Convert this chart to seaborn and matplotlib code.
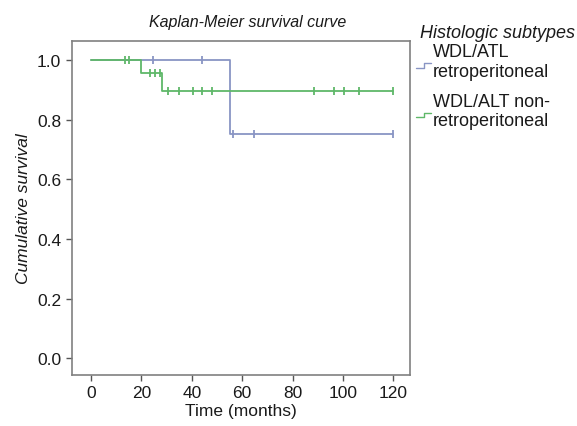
import pandas as pd
import seaborn as sns
import matplotlib.pyplot as plt
from matplotlib.lines import Line2D
from matplotlib.legend_handler import HandlerBase

# Kaplan-Meier step points (time in months, cumulative survival)
retro_time = [0, 55, 120]
retro_surv = [1.0, 0.75, 0.75]
retro_cens_time = [24.5, 44, 56.5, 64.5, 120]
retro_cens_surv = [1.0, 1.0, 0.75, 0.75, 0.75]

nonretro_time = [0, 20, 28, 120]
nonretro_surv = [1.0, 0.955, 0.895, 0.895]
nonretro_cens_time = [13.5, 15, 23.5, 25.5, 27.5, 30.5, 35, 40.5, 44, 48,
                      88.5, 96.5, 100.5, 106.5, 120]
nonretro_cens_surv = [1.0, 1.0, 0.955, 0.955, 0.955, 0.895, 0.895, 0.895, 0.895, 0.895,
                      0.895, 0.895, 0.895, 0.895, 0.895]

labels = ["WDL/ATL\nretroperitoneal", "WDL/ALT non-\nretroperitoneal"]
colors = ["#8995c4", "#5fb869"]


class StepHandler(HandlerBase):
    # little step glyph like in the original legend
    def create_artists(self, legend, orig_handle, xdescent, ydescent,
                       width, height, fontsize, trans):
        x0, x1 = -xdescent, -xdescent + width
        xm = x0 + width * 0.5
        yb = -ydescent + height * 0.0
        yt = -ydescent + height * 0.35
        ln = Line2D([x0, xm, xm, x1], [yb, yb, yt, yt],
                    color=orig_handle.get_color(), lw=1.0, transform=trans)
        return [ln]


def main():
    sns.set_style("ticks")
    plt.rcParams["font.family"] = ["Liberation Sans", "DejaVu Sans"]
    plt.rcParams["text.color"] = "#1a1a1a"
    plt.rcParams["xtick.color"] = "#555555"
    plt.rcParams["ytick.color"] = "#555555"
    plt.rcParams["xtick.labelcolor"] = "#1a1a1a"
    plt.rcParams["ytick.labelcolor"] = "#1a1a1a"
    plt.rcParams["axes.labelcolor"] = "#1a1a1a"

    fig = plt.figure(figsize=(5.77, 4.27), dpi=100)
    ax = fig.add_axes([0.125, 0.119, 0.586, 0.783])

    curves = [
        (retro_time, retro_surv, retro_cens_time, retro_cens_surv),
        (nonretro_time, nonretro_surv, nonretro_cens_time, nonretro_cens_surv),
    ]
    for (t, s, ct, cs), lab, col in zip(curves, labels, colors):
        df = pd.DataFrame({"time": t, "surv": s})
        sns.lineplot(x="time", y="surv", data=df, ax=ax, color=col, lw=1.3,
                     drawstyle="steps-post", label=lab, sort=False)
        cdf = pd.DataFrame({"time": ct, "surv": cs})
        sns.scatterplot(x="time", y="surv", data=cdf, ax=ax, color=col,
                        marker="|", s=30, linewidth=1.3, legend=False)

    ax.set_xlim(-7.5, 126.7)
    ax.set_ylim(-0.057, 1.064)
    ax.set_xticks(range(0, 121, 20))
    ax.set_yticks([0.0, 0.2, 0.4, 0.6, 0.8, 1.0])
    ax.set_yticklabels(["0.0", "0.2", "0.4", "0.6", "0.8", "1.0"])
    ax.tick_params(labelsize=12.5, length=4, width=1, pad=4)
    ax.tick_params(axis="x", pad=3)
    for sp in ax.spines.values():
        sp.set_visible(True)
        sp.set_color("#808080")
        sp.set_linewidth(1.2)

    ax.set_title("Kaplan-Meier survival curve", style="italic", fontsize=11.5,
                 pad=11, x=0.52)
    plt.xlabel("Time (months)", fontsize=12.5, labelpad=2)
    plt.ylabel("Cumulative survival", style="italic", fontsize=12.5, labelpad=4)

    # legend title placed separately so it sits close to the entries
    fig.text(420 / 577, 1 - 33 / 427, "Histologic subtypes", style="italic",
             fontsize=13, va="center", ha="left")
    handles, labs = ax.get_legend_handles_labels()
    ax.legend(handles, labs, loc="upper left",
              bbox_to_anchor=(416 / 577, 1 - 44 / 427),
              bbox_transform=fig.transFigure, frameon=False, fontsize=13,
              handlelength=0.85, handletextpad=0.08, labelspacing=0.72,
              borderaxespad=0, borderpad=0, handler_map={Line2D: StepHandler()})

    plt.savefig("out.png", dpi=100)


if __name__ == "__main__":
    main()
